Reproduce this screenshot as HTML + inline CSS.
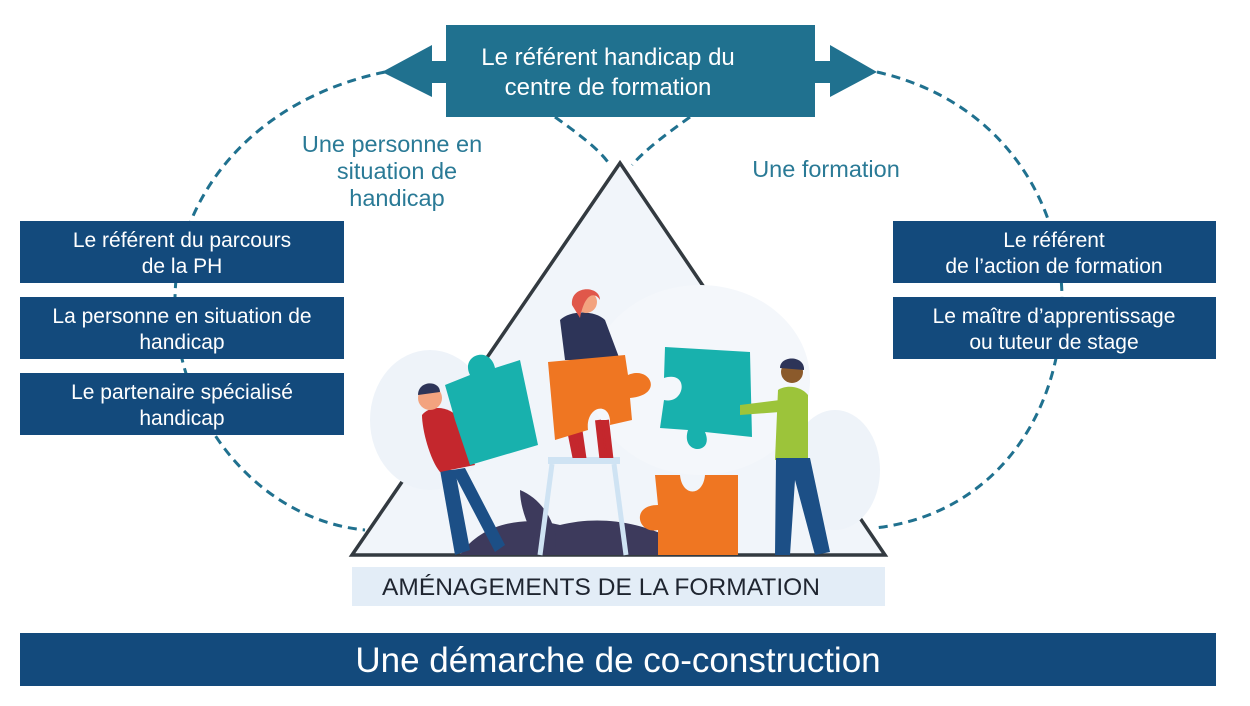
<!DOCTYPE html>
<html><head><meta charset="utf-8"><style>
html,body{margin:0;padding:0;background:#fff}
svg{display:block}
text{font-family:"Liberation Sans",sans-serif}
</style></head><body>
<svg width="1250" height="706" viewBox="0 0 1250 706" xmlns="http://www.w3.org/2000/svg">
<rect width="1250" height="706" fill="#fff"/>
<g fill="none" stroke="#20718f" stroke-width="3" stroke-dasharray="9 6">
<path d="M385,72 C250,100 175,200 175,300 C175,420 260,520 365,530"/>
<path d="M555,117 C580,135 600,150 610,165"/>
<path d="M877,72 C1000,100 1062,200 1062,300 C1062,420 990,515 875,528"/>
<path d="M690,117 C665,135 645,150 632,165"/>
</g>
<path d="M620,163 L885,555 L352,555 Z" fill="#f1f5fa" stroke="#333a40" stroke-width="3.5"/>
<ellipse cx="700" cy="380" rx="110" ry="95" fill="#f4f7fb"/>
<ellipse cx="430" cy="420" rx="60" ry="70" fill="#eef3f9"/>
<ellipse cx="835" cy="470" rx="45" ry="60" fill="#eef3f9"/>
<path d="M460,555 C480,525 520,515 560,525 C600,515 650,520 700,555 Z" fill="#3d3a5c"/>
<path d="M520,490 C545,500 560,530 555,550 L540,552 C530,530 520,510 520,490Z" fill="#3d3a5c"/>
<path d="M720,500 C705,515 705,540 710,552 L725,552 C722,530 720,515 720,500Z" fill="#3d3a5c"/>
<rect x="548" y="457" width="72" height="7" fill="#cfe3f3"/>
<path d="M552,464 L540,555 M614,464 L626,555" stroke="#cfe3f3" stroke-width="5"/>
<path d="M655,475 L738,475 L738,555 L658,555 L658,530 C638,535 630,505 658,505 Z" fill="#ef7622"/>
<path d="M680,475 C682,497 703,497 705,475Z" fill="#f1f5fa"/>
<path d="M455,470 L470,550 L455,555 L440,470Z" fill="#1c4f86"/>
<path d="M465,468 L505,545 L495,552 L452,470Z" fill="#1c4f86"/>
<path d="M422,415 C430,405 450,405 460,420 L475,465 L440,472 C430,460 422,430 422,415Z" fill="#c4272d"/>
<circle cx="430" cy="398" r="12" fill="#f3a37f"/>
<path d="M418,395 C418,380 440,380 440,392Z" fill="#2d3458"/>
<path d="M445,385 L470,375 C460,355 490,345 495,368 L520,360 L538,445 L470,465 L455,420 Z" fill="#18b1ad"/>
<path d="M568,420 L575,455 L583,455 L578,420 M598,420 L602,455 L610,455 L606,420" fill="#c4272d" stroke="#c4272d" stroke-width="6"/>
<path d="M560,320 C570,310 595,310 605,320 L620,360 L565,360 Z" fill="#2d3458"/>
<circle cx="586" cy="302" r="11" fill="#f3a37f"/>
<path d="M572,305 C570,285 600,285 600,300 C595,292 585,292 580,318Z" fill="#e0574a"/>
<path d="M548,362 L625,355 L628,375 C650,365 665,395 630,398 L632,420 L610,425 C612,400 585,405 588,430 L555,440 Z" fill="#ef7622"/>
<path d="M665,347 L750,352 L752,437 L705,432 C715,455 680,455 688,430 L660,428 L664,400 C685,405 690,370 664,378 Z" fill="#18b1ad"/>
<path d="M778,390 C785,385 800,385 808,395 L808,460 L775,460 Z" fill="#9cc43a"/>
<path d="M740,405 L780,400 L780,412 L740,415Z" fill="#9cc43a"/>
<circle cx="792" cy="372" r="11" fill="#8b5a2b"/>
<path d="M780,368 C780,355 805,355 804,370Z" fill="#2d3458"/>
<path d="M776,458 L810,458 L830,552 L815,555 L795,480 L790,555 L775,555Z" fill="#1c4f86"/>
<rect x="446" y="25" width="369" height="92" fill="#20718f"/>
<path d="M432,61 L446,61 L446,83 L432,83 L432,97 L382,72 L432,45Z" fill="#20718f"/>
<path d="M830,61 L815,61 L815,83 L830,83 L830,97 L877,72 L830,45Z" fill="#20718f"/>
<text x="608" y="65" font-size="24" fill="#fff" text-anchor="middle">Le référent handicap du</text>
<text x="608" y="95" font-size="24" fill="#fff" text-anchor="middle">centre de formation</text>
<g font-size="23.5" fill="#2a7a96" text-anchor="middle">
<text x="392" y="152">Une personne en</text>
<text x="397" y="179">situation de</text>
<text x="397" y="206">handicap</text>
<text x="826" y="177">Une formation</text>
</g>
<g fill="#134a7c">
<rect x="20" y="221" width="324" height="62"/>
<rect x="20" y="297" width="324" height="62"/>
<rect x="20" y="373" width="324" height="62"/>
<rect x="893" y="221" width="323" height="62"/>
<rect x="893" y="297" width="323" height="62"/>
</g>
<g font-size="21" fill="#fff" text-anchor="middle">
<text x="182" y="247">Le référent du parcours</text>
<text x="182" y="273">de la PH</text>
<text x="182" y="323">La personne en situation de</text>
<text x="182" y="349">handicap</text>
<text x="182" y="399">Le partenaire spécialisé</text>
<text x="182" y="425">handicap</text>
<text x="1054" y="247">Le référent</text>
<text x="1054" y="273">de l’action de formation</text>
<text x="1054" y="323">Le maître d’apprentissage</text>
<text x="1054" y="349">ou tuteur de stage</text>
</g>
<rect x="352" y="567" width="533" height="39" fill="#e3edf7"/>
<text x="382" y="595" font-size="24.5" fill="#1f2530" textLength="438">AMÉNAGEMENTS DE LA FORMATION</text>
<rect x="20" y="633" width="1196" height="53" fill="#134a7c"/>
<text x="618" y="672" font-size="35" fill="#fff" text-anchor="middle">Une démarche de co-construction</text>
</svg>
</body></html>
